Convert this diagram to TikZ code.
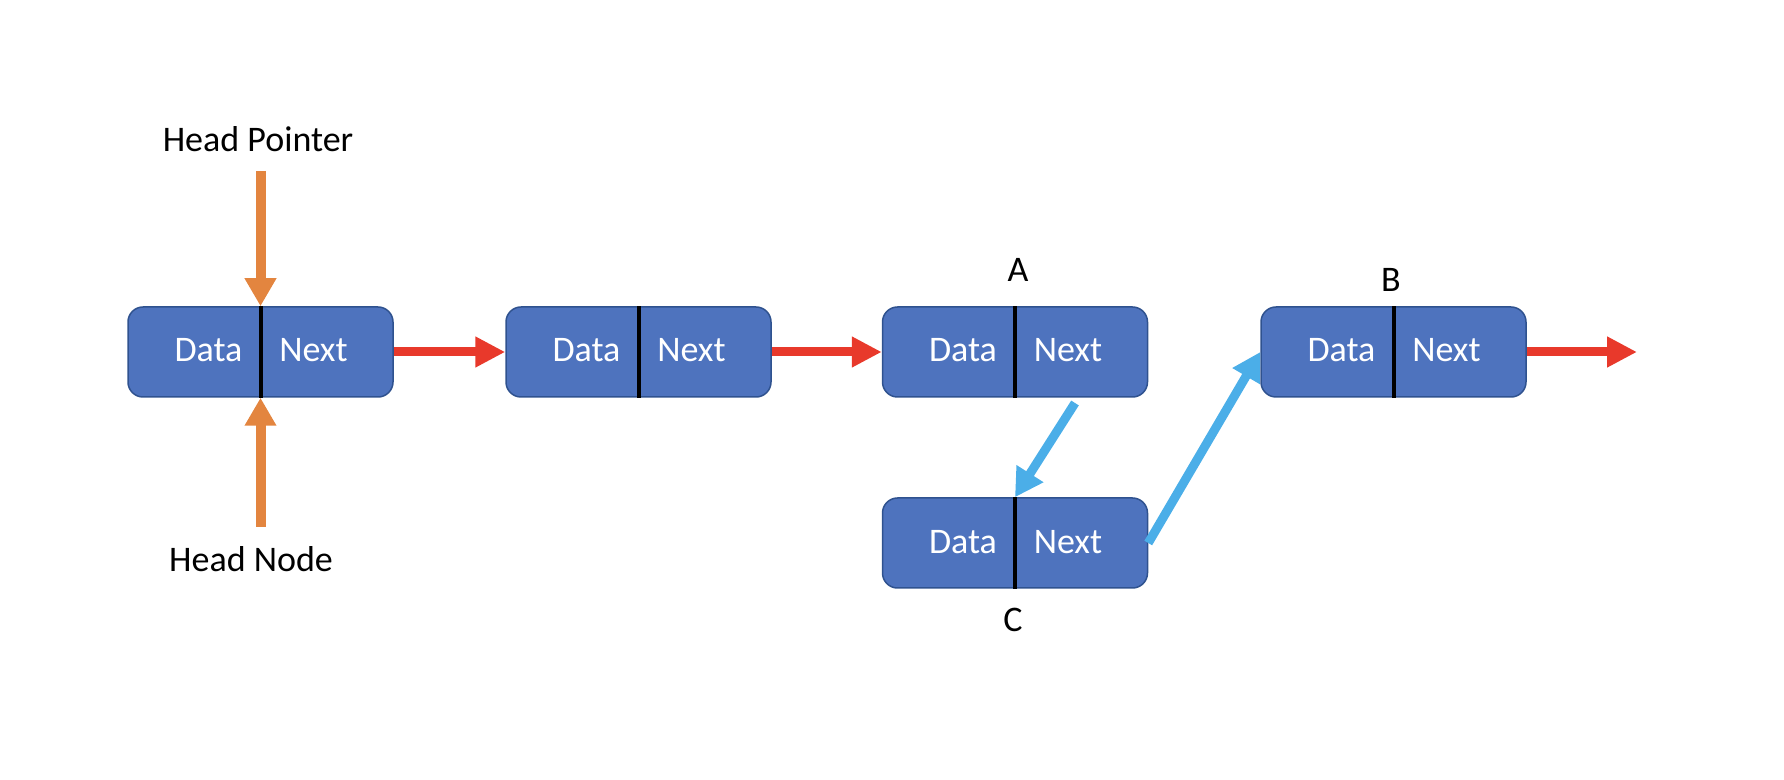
\documentclass[tikz,border=0pt]{standalone}
\usepackage{fontspec}
\setmainfont{Carlito}
\usetikzlibrary{arrows.meta}
\definecolor{boxfill}{HTML}{4E73BE}
\definecolor{boxline}{HTML}{2F528F}
\definecolor{ptrorange}{HTML}{E3853F}
\definecolor{linkred}{HTML}{E8392B}
\definecolor{linkblue}{HTML}{4BAEE8}
\newcommand\listcell[3]{%
  \node[cell] (#1) at (#2,#3) {};
  \draw[divider] (#1.north) -- (#1.south);
  \node[celltext] (#1d) at ([xshift=-26pt,yshift=-5pt]#1.center) {Data};
  \node[celltext] (#1n) at ([xshift=26.5pt,yshift=-5pt]#1.center) {Next};
}
\begin{document}
\begin{tikzpicture}[x=0.5pt,y=-0.5pt,
  cell/.style={draw=boxline, fill=boxfill, line width=0.75pt, rounded corners=7.5pt,
    minimum width=132.5pt, minimum height=45pt, inner sep=0pt},
  celltext/.style={text=white, font=\fontsize{18}{20}\selectfont, anchor=base, inner sep=0pt},
  lbl/.style={font=\fontsize{18}{20}\selectfont, anchor=base, inner sep=0pt},
  divider/.style={line width=2pt, black},
  redarrow/.style={draw=linkred, fill=linkred, line width=4.5pt, -{Triangle[width=14.5pt,length=15pt]}},
  orangearrow/.style={draw=ptrorange, fill=ptrorange, line width=5pt, -{Triangle[width=15pt,length=14pt]}},
  bluearrow/.style={draw=linkblue, fill=linkblue, line width=4.5pt, -{Triangle[width=15pt,length=14pt]}}]
\useasboundingbox (0,0) rectangle (1784,780);

\listcell{b1}{260.5}{352}
\listcell{b2}{638.5}{352}
\listcell{na}{1015}{352}
\listcell{nc}{1015}{543}
\listcell{nb}{1393.5}{352}

\node[lbl] (hp) at (258,152) {Head Pointer};
\node[lbl] (hn) at (251,572) {Head Node};
\node[lbl] (la) at (1018,282) {A};
\node[lbl] (lb) at (1391,292) {B};
\node[lbl] (lc) at (1013,632) {C};

\coordinate (hpS) at (260.5,171);
\coordinate (hnS) at (260.5,527);
\coordinate (aS) at (1075,403);
\coordinate (tailend) at (1637,352);

\draw[orangearrow] (hpS) -- (b1.north);
\draw[orangearrow] (hnS) -- (b1.south);

\draw[redarrow] (b1.east) -- (b2.west);
\draw[redarrow] (b2.east) -- (na.west);
\draw[redarrow] (nb.east) -- (tailend);

\draw[bluearrow] (aS) -- (nc.north);
\draw[bluearrow] (nc.east) -- (nb.west);
\end{tikzpicture}
\end{document}
